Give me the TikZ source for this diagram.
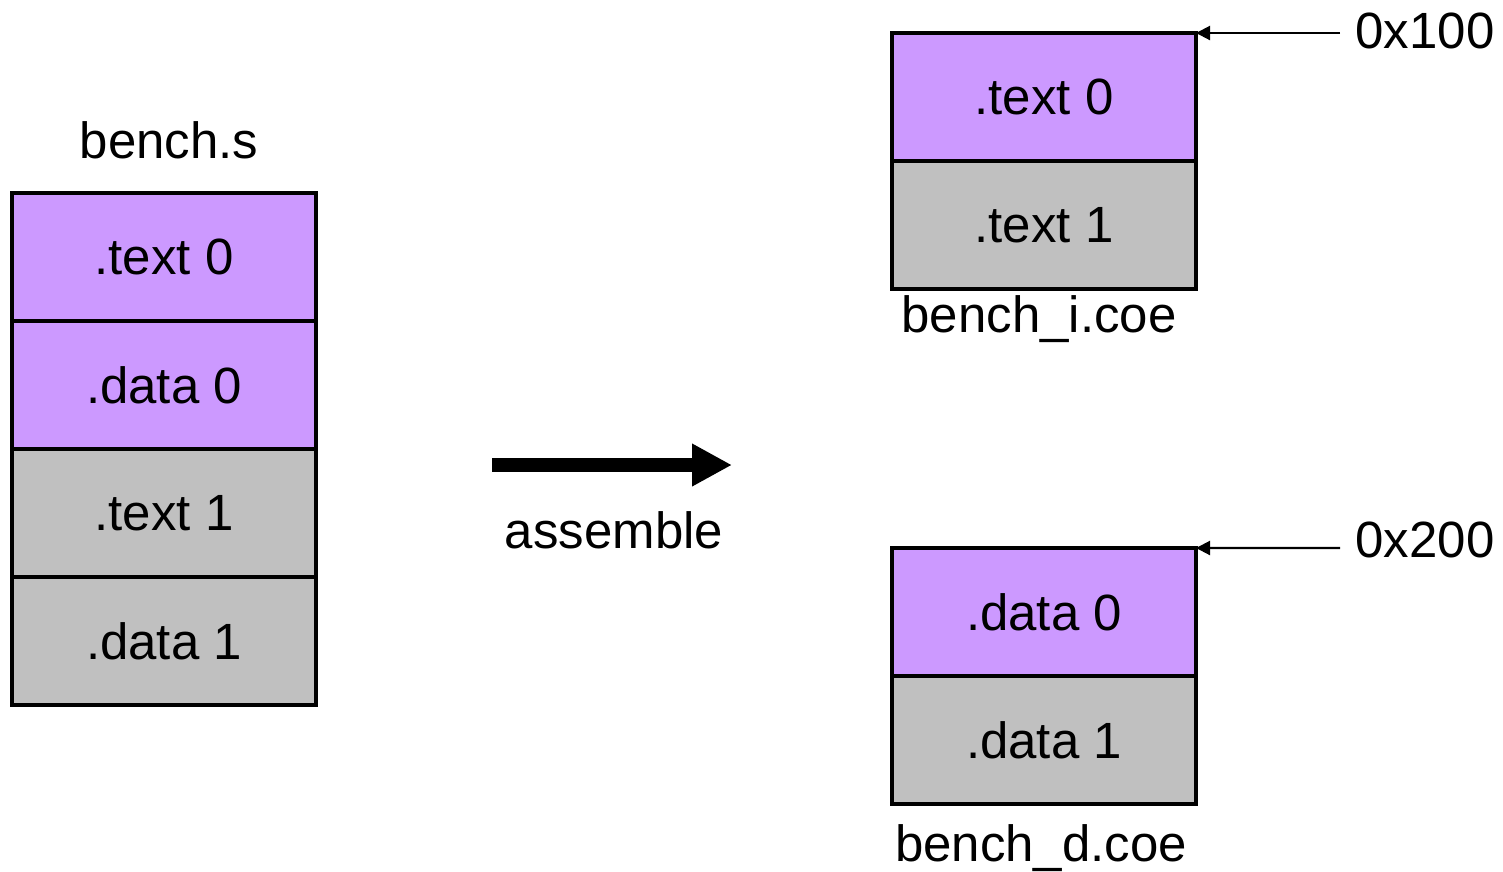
\documentclass[tikz,border=0pt]{standalone}
\usepackage{fontspec}
\setmainfont{Liberation Sans}
\usetikzlibrary{arrows.meta}

\definecolor{segpurple}{HTML}{CC99FF}
\definecolor{seggray}{HTML}{C0C0C0}

\tikzset{
  seg/.style={draw, line width=0.9pt, minimum width=3.04cm, minimum height=1.28cm,
    inner sep=0pt, outer sep=0pt, font=\fontsize{14.5}{17}\selectfont},
  lbl/.style={font=\fontsize{14.5}{17}\selectfont, inner sep=0pt}
}

\begin{document}
\begin{tikzpicture}
    \useasboundingbox (0,0) rectangle (15.03,-8.71);

    % Fichero fuente
    \node[lbl] (src) at (1.69,-1.40) {bench.s};
    \node[seg, fill=segpurple] (s1) at (1.64,-2.57) {.text 0};
    \node[seg, fill=segpurple] (s2) at (1.64,-3.85) {.data 0};
    \node[seg, fill=seggray]   (s3) at (1.64,-5.13) {.text 1};
    \node[seg, fill=seggray]   (s4) at (1.64,-6.41) {.data 1};

    % Ensamblado
    \coordinate (a0) at (4.92,-4.65);
    \coordinate (a1) at (7.32,-4.65);
    \draw[line width=4pt, -{Triangle[length=0.4cm, width=0.4cm]}] (a0) -- (a1);
    \node[lbl] (asm) at (6.14,-5.30) {assemble};

    % Memoria de instrucciones
    \node[seg, fill=segpurple] (i1) at (10.44,-0.97) {.text 0};
    \node[seg, fill=seggray]   (i2) at (10.44,-2.25) {.text 1};
    \node[lbl] (icoe) at (10.39,-3.19) {bench\_i.coe};

    % Memoria de datos
    \node[seg, fill=segpurple] (d1) at (10.44,-6.12) {.data 0};
    \node[seg, fill=seggray]   (d2) at (10.44,-7.40) {.data 1};
    \node[lbl] (dcoe) at (10.41,-8.48) {bench\_d.coe};

    % Direcciones base
    \node[lbl] (ad1) at (14.25,-0.31) {0x100};
    \node[lbl] (ad2) at (14.25,-5.40) {0x200};
    \coordinate (p1) at (13.40,-0.33);
    \coordinate (p2) at (13.40,-5.48);
    \draw[line width=0.6pt, -{Triangle[length=0.14cm, width=0.14cm]}] (p1) -- (i1.north east);
    \draw[line width=0.6pt, -{Triangle[length=0.14cm, width=0.14cm]}] (p2) -- (d1.north east);
\end{tikzpicture}
\end{document}
